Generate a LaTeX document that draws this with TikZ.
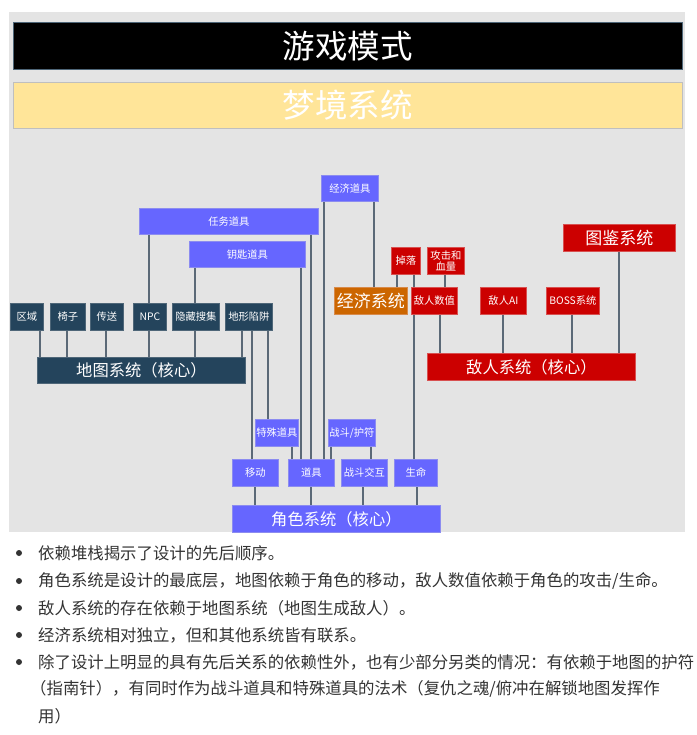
\documentclass[tikz,border=0pt]{standalone}
\usepackage{fontspec}
\setmainfont{Noto Sans CJK SC}
\usetikzlibrary{calc}
\pgfdeclarelayer{back}
\pgfdeclarelayer{mid}
\pgfsetlayers{back,mid,main}
\definecolor{bggray}{HTML}{E4E4E4}
\definecolor{navy}{HTML}{24445C}
\definecolor{navyb}{HTML}{4E6678}
\definecolor{bluef}{HTML}{6666FF}
\definecolor{blueb}{HTML}{8C8CF0}
\definecolor{redf}{HTML}{CC0000}
\definecolor{redb}{HTML}{D85050}
\definecolor{orangef}{HTML}{CC6600}
\definecolor{orangeb}{HTML}{D88A4A}
\definecolor{yellowf}{HTML}{FFE599}
\definecolor{linec}{HTML}{5B6977}
\definecolor{txt}{HTML}{333333}
\tikzset{
  box/.style={inner sep=0pt, line width=0.8pt, text=white, align=center, font=\fontsize{10.3}{12}\selectfont},
  navybox/.style={box, fill=navy, draw=navyb},
  bluebox/.style={box, fill=bluef, draw=blueb},
  redbox/.style={box, fill=redf, draw=redb},
  orangebox/.style={box, fill=orangef, draw=orangeb},
  big/.style={font=\fontsize{16.3}{18}\selectfont},
  conn/.style={draw=linec, line width=1.6pt},
  btext/.style={anchor=west, inner sep=0pt, text=txt, font=\fontsize{16.4}{18}\selectfont},
  bdot/.style={circle, fill=txt, inner sep=0pt, minimum size=6pt}
}
\newcommand\bx[7]{\node[#2, anchor=north west, minimum width={(#5-#3)*1pt}, minimum height={(#6-#4)*1pt}] (#1) at (#3,#4) {#7};}
\begin{document}
\begin{tikzpicture}[x=1pt,y=-1pt]
\useasboundingbox (0,0) rectangle (696,735);
\begin{pgfonlayer}{back}
\fill[white] (0,0) rectangle (696,735);
\fill[bggray] (9,12) rectangle (685,532);
\end{pgfonlayer}

% title bars
\bx{title}{box, fill=black, draw=navyb, font=\fontsize{32.5}{35}\selectfont}{13}{22}{682}{69}{游戏模式}
\bx{dream}{box, fill=yellowf, draw=black!25, font=\fontsize{32.5}{35}\selectfont}{13}{82}{682}{128}{梦境系统}

% map system
\bx{qy}{navybox}{10}{303}{43}{330}{区域}
\bx{yz}{navybox}{50}{303}{85}{330}{椅子}
\bx{cs}{navybox}{90}{303}{123}{330}{传送}
\bx{npc}{navybox}{133}{303}{166}{330}{NPC}
\bx{yc}{navybox}{172}{303}{219}{330}{隐藏搜集}
\bx{dx}{navybox}{225}{303}{272}{330}{地形陷阱}
\bx{map}{navybox, big}{37}{357}{245}{383}{地图系统（核心）}

% items
\bx{rw}{bluebox}{139}{208}{318}{234}{任务道具}
\bx{ys}{bluebox}{189}{241}{305}{267}{钥匙道具}
\bx{jd}{bluebox}{321}{175}{378}{201}{经济道具}
\bx{ts}{bluebox}{255}{419}{298}{446}{特殊道具}
\bx{zh}{bluebox}{328}{419}{375}{446}{战斗/护符}
\bx{yd}{bluebox}{232}{459}{278}{486}{移动}
\bx{dj}{bluebox}{288}{459}{334}{486}{道具}
\bx{jh}{bluebox}{341}{459}{387}{486}{战斗交互}
\bx{sm}{bluebox}{394}{459}{437}{486}{生命}
\bx{role}{bluebox, big}{232}{505}{440}{532}{角色系统（核心）}

% enemy & economy
\bx{dl}{redbox}{391}{247}{420}{274}{掉落}
\bx{gj}{redbox, font=\fontsize{10.3}{11.5}\selectfont}{427}{247}{464}{274}{攻击和\\血量}
\bx{sz}{redbox}{411}{287}{457}{314}{敌人数值}
\bx{ai}{redbox}{480}{287}{526}{314}{敌人AI}
\bx{boss}{redbox}{546}{287}{599}{314}{BOSS系统}
\bx{tj}{redbox, font=\fontsize{17}{19}\selectfont}{563}{224}{675}{251}{图鉴系统}
\bx{enemy}{redbox, big}{427}{353}{635}{380}{敌人系统（核心）}
\bx{jj}{orangebox, font=\fontsize{17}{19}\selectfont}{334}{287}{407}{314}{经济系统}

\begin{pgfonlayer}{mid}
\draw[conn] (40,0 |- qy.south) -- (40,0 |- map.north);
\draw[conn] (67,0 |- yz.south) -- (67,0 |- map.north);
\draw[conn] (106,0 |- cs.south) -- (106,0 |- map.north);
\draw[conn] (149,0 |- rw.south) -- (149,0 |- npc.north);
\draw[conn] (149,0 |- npc.south) -- (149,0 |- map.north);
\draw[conn] (195,0 |- ys.south) -- (195,0 |- yc.north);
\draw[conn] (195,0 |- yc.south) -- (195,0 |- map.north);
\draw[conn] (242,0 |- dx.south) -- (242,0 |- map.north);
\draw[conn] (252,0 |- dx.south) -- (252,0 |- yd.north);
\draw[conn] (268,0 |- dx.south) -- (268,0 |- ts.north);
\draw[conn] (301,0 |- ys.south) -- (301,0 |- dj.north);
\draw[conn] (311,0 |- rw.south) -- (311,0 |- dj.north);
\draw[conn] (324,0 |- jd.south) -- (324,0 |- dj.north);
\draw[conn] (374,0 |- jd.south) -- (374,0 |- jj.north);
\draw[conn] (397,0 |- dl.south) -- (397,0 |- jj.north);
\draw[conn] (414,0 |- dl.south) -- (414,0 |- sm.north);
\draw[conn] (445,0 |- gj.south) -- (445,0 |- sz.north);
\draw[conn] (440,0 |- sz.south) -- (440,0 |- enemy.north);
\draw[conn] (503,0 |- ai.south) -- (503,0 |- enemy.north);
\draw[conn] (572,0 |- boss.south) -- (572,0 |- enemy.north);
\draw[conn] (619,0 |- tj.south) -- (619,0 |- enemy.north);
\draw[conn] (292,0 |- ts.south) -- (292,0 |- dj.north);
\draw[conn] (331,0 |- zh.south) -- (331,0 |- dj.north);
\draw[conn] (371,0 |- zh.south) -- (371,0 |- jh.north);
\draw[conn] (255,0 |- yd.south) -- (255,0 |- role.north);
\draw[conn] (311,0 |- dj.south) -- (311,0 |- role.north);
\draw[conn] (363,0 |- jh.south) -- (363,0 |- role.north);
\draw[conn] (417,0 |- sm.south) -- (417,0 |- role.north);
\end{pgfonlayer}

% bullet list
\node[bdot] (d1) at (19,553) {};
\node[btext] (t1) at (38,553) {依赖堆栈揭示了设计的先后顺序。};
\node[bdot] (d2) at (19,581) {};
\node[btext] (t2) at (38,581) {角色系统是设计的最底层，地图依赖于角色的移动，敌人数值依赖于角色的攻击/生命。};
\node[bdot] (d3) at (19,608) {};
\node[btext] (t3) at (38,608) {敌人系统的存在依赖于地图系统（地图生成敌人）。};
\node[bdot] (d4) at (19,635) {};
\node[btext] (t4) at (38,635) {经济系统相对独立，但和其他系统皆有联系。};
\node[bdot] (d5) at (19,662) {};
\node[btext] (t5) at (38,662) {除了设计上明显的具有先后关系的依赖性外，也有少部分另类的情况：有依赖于地图的护符};
\node[btext] (t6) at (30,689) {（指南针），有同时作为战斗道具和特殊道具的法术（复仇之魂/俯冲在解锁地图发挥作};
\node[btext] (t7) at (38,716) {用）};
\end{tikzpicture}
\end{document}
